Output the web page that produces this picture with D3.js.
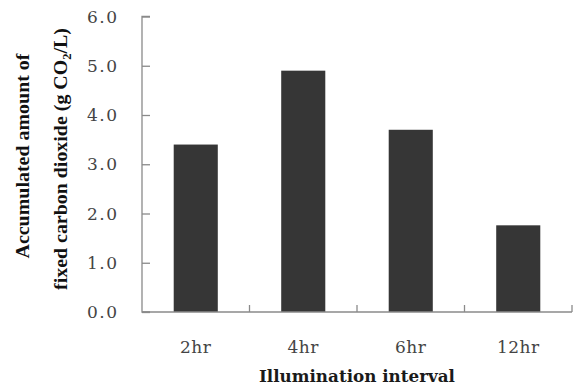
<!DOCTYPE html>
<html>
<head>
<meta charset="utf-8">
<script src="https://cdn.jsdelivr.net/npm/d3@7"></script>
<style>
  html, body { margin: 0; padding: 0; background: #fff; }
  svg { display: block; }
</style>
</head>
<body>
<svg id="chart" width="583" height="385"></svg>
<script>
// Accumulated fixed CO2 per illumination interval
const categories = ["2hr", "4hr", "6hr", "12hr"];
const values = [3.4, 4.9, 3.7, 1.76];
const yTicks = [0, 1, 2, 3, 4, 5, 6];

const svg = d3.select("#chart");
const margin = { left: 142, right: 11, top: 16.5, bottom: 73 };
const W = 583, H = 385;
const x0 = margin.left, x1 = W - margin.right;
const y0 = H - margin.bottom, y1 = margin.top;

const x = d3.scaleBand().domain(categories).range([x0, x1]).paddingInner(0.59).paddingOuter(0.295);
const y = d3.scaleLinear().domain([0, 6]).range([y0, y1]);

const serif = "'DejaVu Serif', serif";
const axisColor = "#8a8a8a";

// bars
svg.append("g").selectAll("rect").data(values).join("rect")
  .attr("x", (d, i) => x(categories[i]))
  .attr("y", d => y(d))
  .attr("width", x.bandwidth())
  .attr("height", d => y(0) - y(d))
  .attr("fill", "#363636");

// y axis with inward ticks
const yAxis = svg.append("g").attr("transform", `translate(${x0},0)`)
  .call(d3.axisRight(y).tickValues(yTicks).tickSize(8).tickFormat(""));
yAxis.select(".domain").attr("stroke", axisColor).attr("stroke-width", 1.3)
  .attr("d", `M8,${y1}H0V${y0}H8`);
yAxis.selectAll(".tick line").attr("stroke", axisColor).attr("stroke-width", 1.3);

svg.append("g").selectAll("text").data(yTicks).join("text")
  .attr("x", 118.5).attr("y", d => y(d)).attr("dy", "0.36em")
  .attr("text-anchor", "end")
  .attr("font-family", serif).attr("font-size", 17)
  .attr("letter-spacing", 1.5)
  .attr("fill", "#444")
  .text(d => d.toFixed(1));

// x axis with inward category separators
const sep = categories.map((c, i) => x0 + (x1 - x0) * (i + 1) / categories.length);
svg.append("line").attr("x1", x0).attr("x2", x1).attr("y1", y0).attr("y2", y0)
  .attr("stroke", axisColor).attr("stroke-width", 1.3);
svg.append("g").selectAll("line").data(sep).join("line")
  .attr("x1", d => d).attr("x2", d => d).attr("y1", y0).attr("y2", y0 - 7)
  .attr("stroke", axisColor).attr("stroke-width", 1.3);

svg.append("g").selectAll("text").data(categories).join("text")
  .attr("x", d => x(d) + x.bandwidth() / 2).attr("y", 353)
  .attr("text-anchor", "middle")
  .attr("font-family", serif).attr("font-size", 17)
  .attr("letter-spacing", 0.5)
  .attr("fill", "#444")
  .text(d => d);

// axis titles
svg.append("text")
  .attr("x", (x0 + x1) / 2).attr("y", 382)
  .attr("text-anchor", "middle")
  .attr("font-family", serif).attr("font-size", 16.5).attr("font-weight", "bold")
  .attr("fill", "#1a1a1a")
  .attr("textLength", 196).attr("lengthAdjust", "spacingAndGlyphs")
  .text("Illumination interval");

const titleFont = "'Liberation Serif', 'Times New Roman', serif";
svg.append("text")
  .attr("transform", "translate(29,156) rotate(-90)")
  .attr("text-anchor", "middle")
  .attr("font-family", titleFont).attr("font-size", 19).attr("font-weight", "bold")
  .attr("fill", "#111")
  .attr("textLength", 205).attr("lengthAdjust", "spacingAndGlyphs")
  .text("Accumulated amount  of");

const t2 = svg.append("text")
  .attr("transform", "translate(67,159) rotate(-90)")
  .attr("text-anchor", "middle")
  .attr("font-family", titleFont).attr("font-size", 19).attr("font-weight", "bold")
  .attr("fill", "#111")
  .attr("textLength", 262).attr("lengthAdjust", "spacingAndGlyphs");
t2.append("tspan").text("fixed carbon dioxide (g CO");
t2.append("tspan").attr("font-size", 12).attr("dy", 4).text("2");
t2.append("tspan").attr("dy", -4).text("/L)");
</script>
</body>
</html>
